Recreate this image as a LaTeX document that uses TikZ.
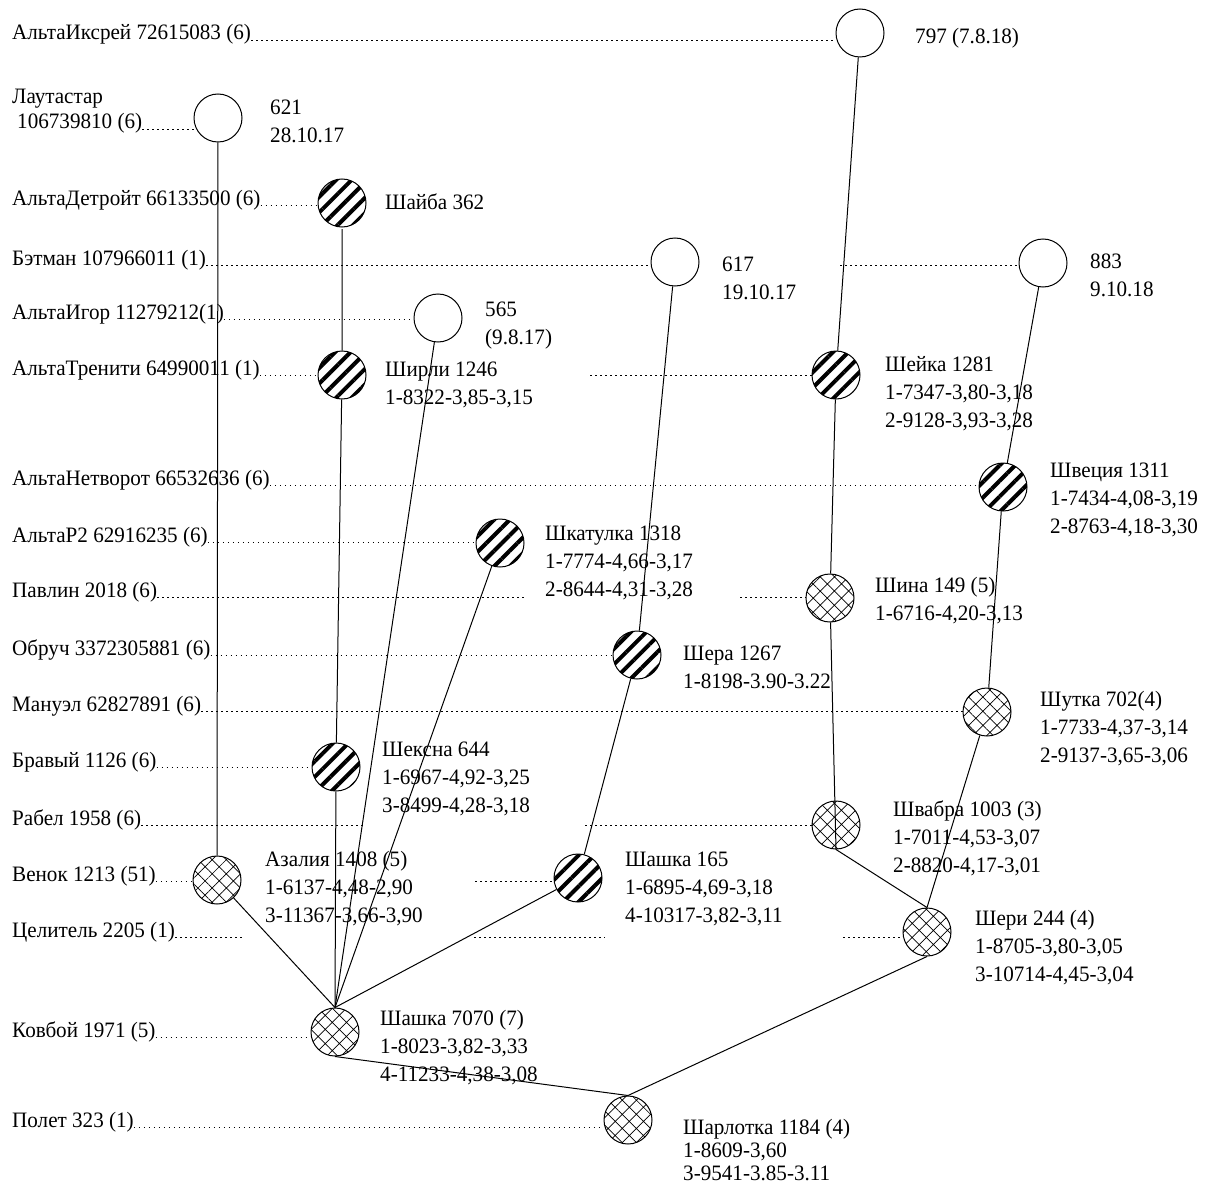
\documentclass[tikz,border=0pt]{standalone}
\usepackage{fontspec}
\setmainfont{Liberation Serif}[FakeStretch=0.96]
\usepackage{tikz}
\usetikzlibrary{patterns.meta}

\begin{document}
\begin{tikzpicture}[x=1pt,y=-1pt,
  cnode/.style={circle,draw,line width=1pt,minimum size=48pt,inner sep=0},
  c0/.style={cnode,fill=white},
  c1/.style={cnode,preaction={fill=white},pattern={Lines[angle=45,distance=11pt,line width=4pt]}},
  c2/.style={cnode,preaction={fill=white},pattern={Hatch[angle=45,distance=10pt,line width=0.7pt]}},
  lbl/.style={anchor=base west,align=left,inner sep=0,font=\fontsize{22}{28}\selectfont},
  dots/.style={line width=0.8pt,dash pattern=on 1.5pt off 3.5pt},
  link/.style={line width=1pt}]
\useasboundingbox (0,0) rectangle (1228,1185);
% names down the left side
\foreach \n/\t/\y in {l1/АльтаИксрей 72615083 (6)/40, l3/АльтаДетройт 66133500 (6)/205,
  l4/Бэтман 107966011 (1)/265, l5/АльтаИгор 11279212(1)/319,
  l6/АльтаТренити 64990011 (1)/375, l7/АльтаНетворот 66532636 (6)/485,
  l8/АльтаР2 62916235 (6)/542, l9/Павлин 2018 (6)/597, l10/Обруч 3372305881 (6)/655,
  l11/Мануэл 62827891 (6)/711, l12/Бравый 1126 (6)/767, l13/Рабел 1958 (6)/825,
  l14/Венок 1213 (51)/881, l15/Целитель 2205 (1)/937, l16/Ковбой 1971 (5)/1037,
  l17/Полет 323 (1)/1127}
  \node[lbl] (\n) at (12,\y) {\t};
\node[lbl] (l2a) at (12,104) {Лаутастар};
\node[lbl] (l2b) at (17,129) {106739810 (6)};
% circles
\node[c0] (a797) at (860,33) {};
\node[c0] (a621) at (218,118) {};
\node[c1] (shayba) at (342,203) {};
\node[c0] (a617) at (675,262) {};
\node[c0] (a883) at (1043,263) {};
\node[c0] (a565) at (438,318) {};
\node[c1] (shirli) at (342,375) {};
\node[c1] (sheyka) at (836,375) {};
\node[c1] (shveciya) at (1003,487) {};
\node[c1] (shkat) at (500,543) {};
\node[c2] (shina) at (830,598) {};
\node[c1] (shera) at (637,655) {};
\node[c2] (shutka) at (987,712) {};
\node[c1] (sheksna) at (336,767) {};
\node[c2] (shvabra) at (836,825) {};
\node[c2] (venok) at (217,880) {};
\node[c1] (sh165) at (578,878) {};
\node[c2] (sheri) at (927,932) {};
\node[c2] (sh7070) at (335,1032) {};
\node[c2] (sharl) at (628,1120) {};
% labels beside circles (y = baseline of the last line)
\node[lbl] (t797) at (915,44) {797 (7.8.18)};
\node[lbl] (t621) at (270,143) {621\\28.10.17};
\node[lbl] (tshayba) at (385,210) {Шайба 362};
\node[lbl] (t617) at (722,299) {617\\19.10.17};
\node[lbl] (t883) at (1090,296) {883\\9.10.18};
\node[lbl] (t565) at (485,344) {565\\(9.8.17)};
\node[lbl] (tshirli) at (385,404) {Ширли 1246\\1-8322-3,85-3,15};
\node[lbl] (tsheyka) at (885,427) {Шейка 1281\\1-7347-3,80-3,18\\2-9128-3,93-3,28};
\node[lbl] (tshveciya) at (1050,533) {Швеция 1311\\1-7434-4,08-3,19\\2-8763-4,18-3,30};
\node[lbl] (tshkat) at (545,596) {Шкатулка 1318\\1-7774-4,66-3,17\\2-8644-4,31-3,28};
\node[lbl] (tshina) at (875,620) {Шина 149 (5)\\1-6716-4,20-3,13};
\node[lbl] (tshera) at (683,688) {Шера 1267\\1-8198-3.90-3.22};
\node[lbl] (tshutka) at (1040,762) {Шутка 702(4)\\1-7733-4,37-3,14\\2-9137-3,65-3,06};
\node[lbl] (tsheksna) at (382,812) {Шексна 644\\1-6967-4,92-3,25\\3-8499-4,28-3,18};
\node[lbl] (tshvabra) at (893,872) {Швабра 1003 (3)\\1-7011-4,53-3,07\\2-8820-4,17-3,01};
\node[lbl] (tazaliya) at (265,922) {Азалия 1408 (5)\\1-6137-4,48-2,90\\3-11367-3,66-3,90};
\node[lbl] (tsh165) at (625,922) {Шашка 165\\1-6895-4,69-3,18\\4-10317-3,82-3,11};
\node[lbl] (tsheri) at (975,981) {Шери 244 (4)\\1-8705-3,80-3,05\\3-10714-4,45-3,04};
\node[lbl] (tsh7070) at (380,1081) {Шашка 7070 (7)\\1-8023-3,82-3,33\\4-11233-4,38-3,08};
\node[lbl,font=\fontsize{22}{23}\selectfont] (tsharl) at (683,1180) {Шарлотка 1184 (4)\\1-8609-3,60\\3-9541-3.85-3.11};
% free ends of the broken dotted rows
\coordinate (p4) at (840,265);
\coordinate (p6) at (590,375);
\coordinate (p9a) at (525,597); \coordinate (p9b) at (740,597);
\coordinate (p13a) at (365,825); \coordinate (p13b) at (585,825);
\coordinate (p14) at (475,881);
\coordinate (p15a) at (245,937); \coordinate (p15b) at (474,937);
\coordinate (p15c) at (605,937); \coordinate (p15d) at (843,937);
% dotted rows
\draw[dots] (l1.base east) -- (l1.base east -| a797.west);
\draw[dots] (l2b.base east) -- (l2b.base east -| a621.west);
\draw[dots] (l3.base east) -- (l3.base east -| shayba.west);
\draw[dots] (l4.base east) -- (l4.base east -| a617.west);
\draw[dots] (p4) -- (p4 -| a883.west);
\draw[dots] (l5.base east) -- (l5.base east -| a565.west);
\draw[dots] (l6.base east) -- (l6.base east -| shirli.west);
\draw[dots] (p6) -- (p6 -| sheyka.west);
\draw[dots] (l7.base east) -- (l7.base east -| shveciya.west);
\draw[dots] (l8.base east) -- (l8.base east -| shkat.west);
\draw[dots] (l9.base east) -- (p9a);
\draw[dots] (p9b) -- (p9b -| shina.west);
\draw[dots] (l10.base east) -- (l10.base east -| shera.west);
\draw[dots] (l11.base east) -- (l11.base east -| shutka.west);
\draw[dots] (l12.base east) -- (l12.base east -| sheksna.west);
\draw[dots] (l13.base east) -- (p13a);
\draw[dots] (p13b) -- (p13b -| shvabra.west);
\draw[dots] (l14.base east) -- (l14.base east -| venok.west);
\draw[dots] (p14) -- (p14 -| sh165.west);
\draw[dots] (l15.base east) -- (p15a);
\draw[dots] (p15b) -- (p15c);
\draw[dots] (p15d) -- (p15d -| sheri.west);
\draw[dots] (l16.base east) -- (l16.base east -| sh7070.west);
\draw[dots] (l17.base east) -- (l17.base east -| sharl.west);
% lines of descent
\draw[link] (a797) -- (sheyka) -- (shina) -- (shvabra.south) -- (sheri.north);
\draw[link] (a883) -- (shveciya) -- (shutka) -- (sheri.north);
\draw[link] (sheri.south) -- (sharl.north);
\draw[link] (a617) -- (shera) -- (sh165);
\draw[link] (shayba) -- (shirli) -- (sheksna);
\draw[link] (a621) -- (venok);
\foreach \s in {venok,sheksna,a565,shkat,sh165}
  \draw[link] (\s) -- (sh7070.north);
\draw[link] (sh7070.south) -- (sharl.north);
\end{tikzpicture}
\end{document}
